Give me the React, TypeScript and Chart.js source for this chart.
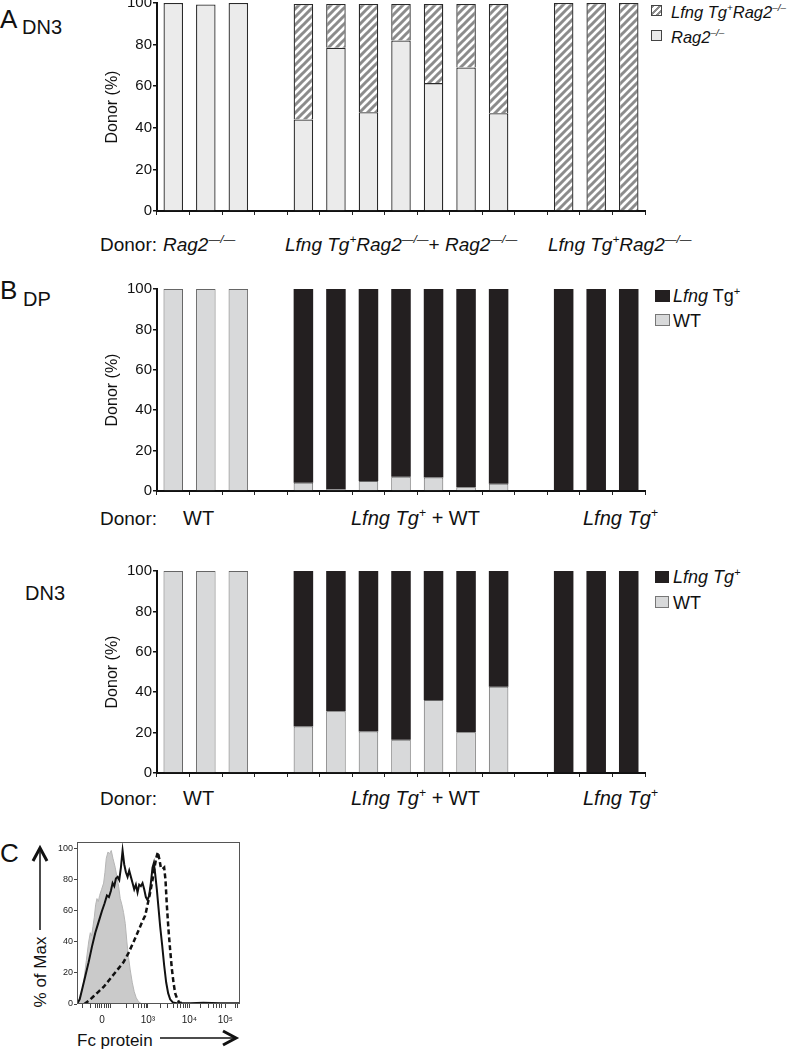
import React, { useEffect, useRef } from 'react';
import { Chart, registerables } from 'chart.js';

Chart.register(...registerables);

const FONT = '"Liberation Sans", Arial, Helvetica, sans-serif';

// ---------- Bar panels: one category per recipient mouse (gaps separate groups) ----------
const mice = ['R1', 'R2', 'R3', 'gap1', 'M1', 'M2', 'M3', 'M4', 'M5', 'M6', 'M7', 'gap2', 'L1', 'L2', 'L3'];
const yTicks = [0, 20, 40, 60, 80, 100];

// Panel A – DN3 (Rag2-/- vs Lfng Tg+Rag2-/-)
const aRag2 = [100, 99.3, 100, null, 44, 78.5, 47.5, 82, 61.5, 69, 47, null, null, null, null];
const aLfngRag2 = [null, null, null, null, 55.5, 21, 52, 17.5, 38, 30.5, 52.5, null, 100, 100, 100];

// Panel B – DP
const dpWT = [100, 100, 100, null, 4.1, 0.8, 4.9, 7, 6.7, 1.8, 3.6, null, null, null, null];
const dpLfng = [null, null, null, null, 95.9, 99.2, 95.1, 93, 93.3, 98.2, 96.4, null, 100, 100, 100];

// Panel B – DN3
const dn3WT = [100, 100, 100, null, 23, 30.6, 20.5, 16.4, 36.2, 20.2, 42.7, null, null, null, null];
const dn3Lfng = [null, null, null, null, 77, 69.4, 79.5, 83.6, 63.8, 79.8, 57.3, null, 100, 100, 100];

// ---------- Panel C: Fc protein histogram (x = display channel) ----------
const fcTicks = [75, 213, 338, 446];
const fcTickLabels = ['0', '10³', '10⁴', '10⁵'];
const fcMinorTicks = [18, 40, 55, 62, 68, 82, 88, 95, 100, 150, 170, 185, 195, 202, 208, 250, 272, 290, 302, 312, 320, 326, 332, 372, 395, 410, 420, 428, 434, 475, 482];
const fcYTicks = [0, 20, 40, 60, 80, 100];

const shadedX = [0, 10, 20, 28, 35, 40, 44, 48, 52, 56, 60, 64, 68, 74, 80, 84, 88, 93, 98, 103, 108, 115, 120, 125, 130, 135, 140, 145, 150, 155, 160, 166, 172, 178, 185, 195];
const shadedY = [0, 3, 14, 28, 40, 46, 44, 50, 56, 64, 68, 66, 70, 74, 78, 85, 94, 98, 97, 99, 94, 88, 82, 76, 68, 64, 59, 52, 40, 30, 22, 14, 8, 4, 1.5, 0];

const solidX = [0, 8, 16, 25, 35, 45, 55, 65, 75, 83, 90, 96, 102, 107, 112, 117, 122, 127, 132, 137, 142, 147, 152, 157, 162, 167, 172, 177, 182, 187, 192, 197, 202, 207, 212, 217, 222, 227, 231, 235, 240, 245, 250, 256, 262, 268, 274, 280, 288, 300, 340, 380, 430, 470, 490];
const solidY = [0, 3, 10, 18, 27, 37, 46, 53, 60, 65, 70, 69, 73, 78, 76, 81, 82, 80, 88, 99, 90, 85, 82, 86, 82, 78, 74, 77, 72, 77, 76, 78, 74, 69, 67, 70, 78, 88, 91, 84, 74, 62, 50, 38, 25, 14, 7, 3, 1, 0.5, 0.5, 0.8, 0.5, 0.5, 0.5];

const dashedX = [22, 35, 50, 65, 80, 95, 110, 125, 140, 155, 170, 180, 190, 198, 205, 212, 220, 227, 233, 238, 243, 248, 252, 257, 262, 266, 270, 275, 280, 285, 290, 295, 300, 307, 320];
const dashedY = [0, 2, 5, 8, 11, 15, 19, 23, 27, 33, 40, 45, 50, 54, 57, 64, 72, 80, 88, 94, 98, 93, 88, 87, 88, 80, 64, 48, 35, 23, 14, 7, 4, 1, 0.5];

const LIGHT_A = '#ebebeb';
const LIGHT_B = '#d8d9da';
const DARK = '#231f20';
const HATCH = '#8c8c8c';

function makeHatch(): CanvasPattern | string {
  const c = document.createElement('canvas');
  c.width = 8;
  c.height = 8;
  const g = c.getContext('2d');
  if (!g) return HATCH;
  g.fillStyle = '#ffffff';
  g.fillRect(0, 0, 8, 8);
  g.strokeStyle = HATCH;
  g.lineWidth = 3;
  g.beginPath();
  g.moveTo(0, 8); g.lineTo(8, 0);
  g.moveTo(-2, 2); g.lineTo(2, -2);
  g.moveTo(6, 10); g.lineTo(10, 6);
  g.stroke();
  return g.createPattern(c, 'repeat') || HATCH;
}

type BarProps = { plotTop: number; plotBottom: number; makeDatasets: () => any[] };

function BarPanel({ plotTop, plotBottom, makeDatasets }: BarProps) {
  const ref = useRef<HTMLCanvasElement | null>(null);
  const left = 103;
  const right = 645;
  const top = Math.round(plotTop) - 10;
  const height = Math.round(plotBottom) - top + 8;
  const width = right + 2 - left;
  useEffect(() => {
    if (!ref.current) return;
    const chart = new Chart(ref.current, {
      type: 'bar',
      data: { labels: mice, datasets: makeDatasets() },
      options: {
        animation: false,
        responsive: false,
        layout: { padding: { top: 10, right: 2, left: 0, bottom: 0 } },
        plugins: { legend: { display: false }, tooltip: { enabled: false } },
        datasets: { bar: { barPercentage: 0.6, categoryPercentage: 1 } },
        scales: {
          x: {
            stacked: true,
            offset: true,
            ticks: { display: false },
            grid: { offset: true, drawOnChartArea: false, drawTicks: true, tickLength: 4, color: '#222', lineWidth: 1 },
            border: { display: true, color: '#111', width: 2 },
            afterFit: (s: any) => { s.height = 8; },
          },
          y: {
            stacked: true,
            min: 0,
            max: 100,
            afterBuildTicks: (s: any) => { s.ticks = yTicks.map((v) => ({ value: v })); },
            ticks: { font: { size: 15, family: FONT }, color: '#111', padding: 1 },
            grid: { drawOnChartArea: false, tickLength: 4, color: '#111', lineWidth: 1.5 },
            border: { display: true, color: '#111', width: 2 },
            title: { display: true, text: 'Donor (%)', font: { size: 16, family: FONT }, color: '#111', padding: 0 },
            afterFit: (s: any) => { s.width = 54; },
          },
        },
      } as any,
    });
    return () => chart.destroy();
  }, []);
  return (
    <canvas
      ref={ref}
      width={width}
      height={height}
      style={{ position: 'absolute', left, top, width, height }}
    />
  );
}

function FcPanel() {
  const ref = useRef<HTMLCanvasElement | null>(null);
  const left = 55;
  const top = 832;
  const width = 189;
  const height = 196;
  useEffect(() => {
    if (!ref.current) return;
    const pts = (xs: number[], ys: number[]) => xs.map((x, i) => ({ x, y: ys[i] }));
    const chart = new Chart(ref.current, {
      type: 'line',
      data: {
        datasets: [
          { data: pts(solidX, solidY), borderColor: '#111', borderWidth: 2, pointRadius: 0, fill: false, tension: 0 },
          { data: pts(dashedX, dashedY), borderColor: '#111', borderWidth: 2.5, borderDash: [5, 3], pointRadius: 0, fill: false, tension: 0 },
          { data: pts(shadedX, shadedY), borderColor: '#b5b5b5', backgroundColor: '#cacaca', borderWidth: 1, pointRadius: 0, fill: 'origin', tension: 0 },
        ],
      },
      options: {
        animation: false,
        responsive: false,
        layout: { padding: { top: 10, right: 4, left: 0, bottom: 0 } },
        plugins: { legend: { display: false }, tooltip: { enabled: false } },
        scales: {
          x: {
            type: 'linear',
            min: 0,
            max: 490,
            afterBuildTicks: (s: any) => {
              s.ticks = [...fcTicks, ...fcMinorTicks].sort((p, q) => p - q).map((v) => ({ value: v }));
            },
            ticks: {
              autoSkip: false,
              maxRotation: 0,
              font: { size: 10, family: FONT },
              color: '#222',
              padding: 6,
              callback: (v: any) => fcTickLabels[fcTicks.indexOf(Number(v))] ?? '',
            },
            grid: {
              drawOnChartArea: false,
              tickLength: 4,
              color: '#444',
              tickWidth: 1,
            },
            border: { display: false },
            afterFit: (s: any) => { s.height = 24; },
          },
          y: {
            min: 0,
            max: 104.5,
            afterBuildTicks: (s: any) => { s.ticks = fcYTicks.map((v) => ({ value: v })); },
            ticks: { font: { size: 9, family: FONT }, color: '#222', padding: 1 },
            grid: { drawOnChartArea: false, tickLength: 3, color: '#444' },
            border: { display: false },
            afterFit: (s: any) => { s.width = 22; },
          },
        },
      } as any,
      plugins: [
        {
          id: 'box',
          afterDraw(c: any) {
            const { ctx, chartArea: a } = c;
            ctx.save();
            ctx.strokeStyle = '#555';
            ctx.lineWidth = 1;
            ctx.strokeRect(a.left + 0.5, a.top + 0.5, a.right - a.left - 1, a.bottom - a.top - 1);
            ctx.restore();
          },
        },
      ],
    });
    return () => chart.destroy();
  }, []);
  return (
    <canvas
      ref={ref}
      width={width}
      height={height}
      style={{ position: 'absolute', left, top, width, height }}
    />
  );
}

const Sup = ({ children, k = 0.62 }: { children: React.ReactNode; k?: number }) => (
  <span style={{ fontSize: `${k}em`, position: 'relative', top: '-0.65em' }}>{children}</span>
);

type TProps = { x: number; cy: number; size: number; children: React.ReactNode; italic?: boolean };
const T = ({ x, cy, size, children, italic }: TProps) => (
  <div
    style={{
      position: 'absolute',
      left: x,
      top: cy - size / 2,
      fontSize: size,
      lineHeight: 1,
      whiteSpace: 'nowrap',
      fontStyle: italic ? 'italic' : 'normal',
      color: '#111',
    }}
  >
    {children}
  </div>
);

const Box = ({ x, y, w, h, bg, border }: { x: number; y: number; w: number; h: number; bg: string; border: string }) => (
  <div style={{ position: 'absolute', left: x, top: y, width: w, height: h, background: bg, border: `1px solid ${border}`, boxSizing: 'border-box' }} />
);

const HATCH_CSS = `repeating-linear-gradient(135deg, ${HATCH} 0px, ${HATCH} 2px, #ffffff 2px, #ffffff 4.5px)`;

export default function App() {
  const datasetsA = () => {
    const hatch = makeHatch();
    return [
      { label: 'Rag2-/-', data: aRag2, backgroundColor: LIGHT_A, borderColor: '#2a2a2a', borderWidth: 1.3 },
      { label: 'Lfng Tg+Rag2-/-', data: aLfngRag2, backgroundColor: hatch, borderColor: '#2a2a2a', borderWidth: 1.3 },
    ];
  };
  const datasetsDP = () => [
    { label: 'WT', data: dpWT, backgroundColor: LIGHT_B, borderColor: '#666', borderWidth: 1 },
    { label: 'Lfng Tg+', data: dpLfng, backgroundColor: DARK, borderColor: DARK, borderWidth: 0 },
  ];
  const datasetsDN3 = () => [
    { label: 'WT', data: dn3WT, backgroundColor: LIGHT_B, borderColor: '#666', borderWidth: 1 },
    { label: 'Lfng Tg+', data: dn3Lfng, backgroundColor: DARK, borderColor: DARK, borderWidth: 0 },
  ];

  const KO = '—/—';

  return (
    <div
      style={{
        position: 'fixed',
        left: 0,
        top: 0,
        width: 795,
        height: 1050,
        background: '#fff',
        overflow: 'hidden',
        fontFamily: FONT,
      }}
    >
      {/* Panel A */}
      <T x={0} cy={19} size={26}>A</T>
      <T x={22} cy={27} size={20}>DN3</T>
      <BarPanel plotTop={3} plotBottom={212.5} makeDatasets={datasetsA} />
      <div style={{ position: 'absolute', left: 651, top: 5, width: 11, height: 11, background: HATCH_CSS, border: '1px solid #444', boxSizing: 'border-box' }} />
      <T x={671} cy={12} size={16.5} italic>Lfng Tg<Sup k={0.6}>+</Sup>Rag2<Sup k={0.6}>–/–</Sup></T>
      <Box x={651} y={30} w={11} h={11} bg={LIGHT_A} border="#444" />
      <T x={671} cy={37} size={16.5} italic>Rag2<Sup k={0.6}>–/–</Sup></T>
      <T x={100} cy={244} size={19}>Donor:</T>
      <T x={163} cy={244} size={19} italic>Rag2<Sup>{KO}</Sup></T>
      <T x={285} cy={244} size={19}><i>Lfng Tg<Sup>+</Sup>Rag2<Sup>{KO}</Sup></i>+ <i>Rag2<Sup>{KO}</Sup></i></T>
      <T x={548} cy={244} size={19} italic>Lfng Tg<Sup>+</Sup>Rag2<Sup>{KO}</Sup></T>

      {/* Panel B – DP */}
      <T x={0} cy={290} size={26}>B</T>
      <T x={23} cy={299} size={20}>DP</T>
      <BarPanel plotTop={289} plotBottom={492.5} makeDatasets={datasetsDP} />
      <Box x={655} y={290} w={15} h={12} bg={DARK} border={DARK} />
      <T x={673} cy={296} size={18}><i>Lfng</i> Tg<Sup>+</Sup></T>
      <Box x={655} y={314} w={15} h={12} bg={LIGHT_B} border="#777" />
      <T x={673} cy={321} size={18}>WT</T>
      <T x={100} cy={518} size={19}>Donor:</T>
      <T x={183} cy={518} size={20}>WT</T>
      <T x={351} cy={518} size={20}><i>Lfng Tg<Sup>+</Sup></i> + WT</T>
      <T x={583} cy={518} size={20} italic>Lfng Tg<Sup>+</Sup></T>

      {/* Panel B – DN3 */}
      <T x={25} cy={593} size={20}>DN3</T>
      <BarPanel plotTop={570.7} plotBottom={775} makeDatasets={datasetsDN3} />
      <Box x={655} y={571} w={14} h={12} bg={DARK} border={DARK} />
      <T x={673} cy={577} size={18} italic>Lfng Tg<Sup>+</Sup></T>
      <Box x={655} y={596} w={14} h={12} bg={LIGHT_B} border="#777" />
      <T x={673} cy={603} size={18}>WT</T>
      <T x={100} cy={798} size={19}>Donor:</T>
      <T x={183} cy={798} size={20}>WT</T>
      <T x={351} cy={798} size={20}><i>Lfng Tg<Sup>+</Sup></i> + WT</T>
      <T x={583} cy={798} size={20} italic>Lfng Tg<Sup>+</Sup></T>

      {/* Panel C */}
      <T x={0} cy={853} size={26}>C</T>
      <FcPanel />
      <div
        style={{
          position: 'absolute',
          left: 40,
          top: 972,
          transform: 'translate(-50%, -50%) rotate(-90deg)',
          fontSize: 17,
          lineHeight: 1,
          whiteSpace: 'nowrap',
          color: '#111',
        }}
      >
        % of Max
      </div>
      <T x={77} cy={1040} size={17}>Fc protein</T>
      <svg
        width={795}
        height={1050}
        style={{ position: 'absolute', left: 0, top: 0, pointerEvents: 'none' }}
      >
        <line x1={40} y1={930} x2={40} y2={850} stroke="#111" strokeWidth={1.5} />
        <polyline points="33,861 40,848 47,861" fill="none" stroke="#111" strokeWidth={3} />
        <line x1={160} y1={1038} x2={234} y2={1038} stroke="#111" strokeWidth={1.5} />
        <polyline points="223,1031 236,1038 223,1045" fill="none" stroke="#111" strokeWidth={3} />
      </svg>
    </div>
  );
}
